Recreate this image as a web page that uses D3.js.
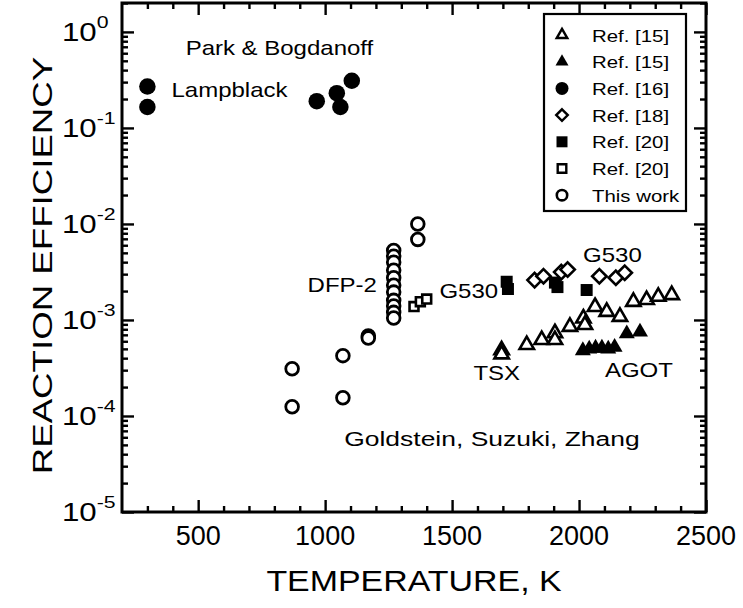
<!DOCTYPE html>
<html>
<head>
<meta charset="utf-8">
<script src="https://cdn.jsdelivr.net/npm/d3@7"></script>
<style>
  body { margin: 0; background: #fff; }
  svg { display: block; }
  text { font-family: "Liberation Sans", Arial, Helvetica, sans-serif; fill: #000; }
</style>
</head>
<body>
<svg id="chart" width="743" height="608"></svg>
<script>
// Reaction efficiency vs. temperature, [T (K), efficiency]
const ref15Open = [
  [1695, 4.85e-4], [1695, 4.4e-4],
  [1794, 5.5e-4], [1853, 6.2e-4], [1905, 7.3e-4], [1905, 6.2e-4],
  [1964, 8.5e-4], [2017, 1.04e-3], [2023, 8.9e-4], [2063, 1.37e-3],
  [2109, 1.22e-3], [2161, 1.08e-3], [2214, 1.55e-3], [2266, 1.62e-3],
  [2312, 1.75e-3], [2365, 1.82e-3]
];
const ref15Filled = [
  [2015, 4.8e-4], [2040, 5.0e-4], [2065, 5.1e-4], [2090, 5.1e-4],
  [2115, 5.0e-4], [2140, 5.2e-4], [2188, 7.2e-4], [2240, 7.5e-4]
];
const ref16 = [
  [300, 0.27], [300, 0.165], [967, 0.19], [1046, 0.23], [1060, 0.165], [1105, 0.31]
];
const ref18 = [
  [1825, 2.6e-3], [1860, 2.85e-3], [1930, 3.15e-3], [1955, 3.35e-3],
  [2080, 2.85e-3], [2145, 2.75e-3], [2180, 3.1e-3]
];
const ref20Filled = [
  [1715, 2.5e-3], [1720, 2.1e-3], [1905, 2.45e-3], [1915, 2.2e-3], [2030, 2.05e-3]
];
const ref20Open = [
  [1350, 1.38e-3], [1375, 1.55e-3], [1400, 1.65e-3]
];
const thisWork = [
  [870, 3.1e-4], [870, 1.25e-4], [1070, 4.25e-4], [1070, 1.55e-4],
  [1170, 6.8e-4], [1170, 6.5e-4],
  [1270, 5.3e-3], [1270, 4.6e-3], [1270, 4.0e-3], [1270, 3.3e-3], [1270, 2.75e-3],
  [1270, 2.3e-3], [1270, 1.95e-3], [1270, 1.6e-3], [1270, 1.4e-3], [1270, 1.2e-3],
  [1270, 1.05e-3],
  [1365, 1.0e-2], [1365, 6.9e-3]
];

// Axis ticks and labels
const xMajorTicks = [500, 1000, 1500, 2000, 2500];
const xMinorTicks = d3.range(300, 2500, 100).filter(t => t % 500 !== 0);
const yDecades = [-5, -4, -3, -2, -1, 0];

// Legend entries and in-plot annotations
const legendItems = [
  { label: "Ref. [15]", shape: "triangle", filled: false },
  { label: "Ref. [15]", shape: "triangle", filled: true },
  { label: "Ref. [16]", shape: "circle", filled: true },
  { label: "Ref. [18]", shape: "diamond", filled: false },
  { label: "Ref. [20]", shape: "square", filled: true },
  { label: "Ref. [20]", shape: "square", filled: false },
  { label: "This work", shape: "circle", filled: false }
];
const annotations = [
  { text: "Park & Bogdanoff", T: 820, E: 0.57, anchor: "middle", size: 20 },
  { text: "Lampblack", T: 395, E: 0.21, anchor: "start", size: 20 },
  { text: "DFP-2", T: 1204, E: 1.97e-3, anchor: "end", size: 20 },
  { text: "G530", T: 1450, E: 1.69e-3, anchor: "start", size: 20 },
  { text: "G530", T: 2016, E: 4.0e-3, anchor: "start", size: 20 },
  { text: "TSX", T: 1768, E: 2.37e-4, anchor: "end", size: 20 },
  { text: "AGOT", T: 2102, E: 2.55e-4, anchor: "start", size: 20 },
  { text: "Goldstein, Suzuki, Zhang", T: 1657, E: 4.9e-5, anchor: "middle", size: 21 }
];

const plot = { left: 122, right: 706, top: 3, bottom: 512 };
const svg = d3.select("#chart");

const x = d3.scaleLinear().domain([200, 2500]).range([plot.left, plot.right]);
const y = d3.scaleLog().domain([1e-5, 2]).range([plot.bottom, plot.top]);

// Text with a slight horizontal stretch, as in the printed figure
function stretchedText(parent, px, py, str, size, anchor, sx, rot) {
  const g = parent.append("g")
    .attr("transform", `translate(${px},${py})` + (rot ? ` rotate(${rot})` : "") + ` scale(${sx},1)`);
  return g.append("text")
    .attr("text-anchor", anchor)
    .attr("font-size", size)
    .text(str);
}

// ---- marker shapes ----
function markerPath(shape, s) {
  if (shape === "triangle") {
    const h = s * Math.sqrt(3) / 2;
    return `M0,${-2 * h / 3}L${s / 2},${h / 3}L${-s / 2},${h / 3}Z`;
  }
  if (shape === "diamond") {
    return `M0,${-s / 2}L${s / 2},0L0,${s / 2}L${-s / 2},0Z`;
  }
  if (shape === "square") {
    return `M${-s / 2},${-s / 2}h${s}v${s}h${-s}Z`;
  }
  return null;
}

function drawSeries(data, shape, filled, size) {
  const g = svg.append("g");
  if (shape === "circle") {
    g.selectAll("circle").data(data).join("circle")
      .attr("cx", d => x(d[0])).attr("cy", d => y(d[1]))
      .attr("r", filled ? size / 2 : size / 2 - 1.4)
      .attr("fill", filled ? "#000" : "#fff")
      .attr("stroke", "#000").attr("stroke-width", filled ? 0 : 2.8);
  } else {
    g.selectAll("path").data(data).join("path")
      .attr("transform", d => `translate(${x(d[0])},${y(d[1])})`)
      .attr("d", markerPath(shape, filled ? size : size - 2.6))
      .attr("fill", filled ? "#000" : "#fff")
      .attr("stroke", "#000").attr("stroke-width", filled ? 0 : 2.6)
      .attr("stroke-linejoin", "miter");
  }
}

// ---- data marks ----
drawSeries(ref16, "circle", true, 16.5);
drawSeries(ref20Open, "square", false, 11.5);
drawSeries(thisWork, "circle", false, 15.5);
drawSeries(ref20Filled, "square", true, 12);
drawSeries(ref18, "diamond", false, 17);
drawSeries(ref15Open, "triangle", false, 17);
drawSeries(ref15Filled, "triangle", true, 16);

// ---- annotations ----
annotations.forEach(a => {
  stretchedText(svg, x(a.T), y(a.E), a.text, a.size, a.anchor, a.size === 21 ? 1.26 : 1.2, 0);
});

// ---- ticks (inward on all four sides) ----
const tickG = svg.append("g");
const majorLen = 12, minorLen = 6;
[[xMajorTicks, majorLen], [xMinorTicks, minorLen]].forEach(([ticks, len]) => {
  tickG.append("g").attr("transform", `translate(0,${plot.bottom})`)
    .call(d3.axisTop(x).tickValues(ticks).tickSize(len).tickFormat(""))
    .call(g => g.select(".domain").remove());
  tickG.append("g").attr("transform", `translate(0,${plot.top})`)
    .call(d3.axisBottom(x).tickValues(ticks).tickSize(len).tickFormat(""))
    .call(g => g.select(".domain").remove());
});
const yMajor = yDecades.map(e => Math.pow(10, e));
const yMinor = [];
yDecades.forEach(e => { for (let m = 2; m <= 9; m++) { const v = m * Math.pow(10, e); if (v <= 2) yMinor.push(v); } });
[[yMajor, majorLen], [yMinor, minorLen]].forEach(([ticks, len]) => {
  tickG.append("g").attr("transform", `translate(${plot.left},0)`)
    .call(d3.axisRight(y).tickValues(ticks).tickSize(len).tickFormat(""))
    .call(g => g.select(".domain").remove());
  tickG.append("g").attr("transform", `translate(${plot.right},0)`)
    .call(d3.axisLeft(y).tickValues(ticks).tickSize(len).tickFormat(""))
    .call(g => g.select(".domain").remove());
});
tickG.selectAll("line").attr("stroke", "#000").attr("stroke-width", 2.4);

// ---- frame ----
svg.append("rect")
  .attr("x", plot.left).attr("y", plot.top)
  .attr("width", plot.right - plot.left).attr("height", plot.bottom - plot.top)
  .attr("fill", "none").attr("stroke", "#000").attr("stroke-width", 3);

// ---- tick labels ----
xMajorTicks.forEach(t => {
  stretchedText(svg, x(t), plot.bottom + 33, String(t), 27, "middle", 1.0, 0);
});
yDecades.forEach(e => {
  const py = y(Math.pow(10, e));
  const g = svg.append("g").attr("transform", `translate(${plot.left - 60},${py + 9}) scale(1.25,1)`);
  const t = g.append("text").attr("text-anchor", "start").attr("font-size", 25);
  t.append("tspan").text("10");
  t.append("tspan").attr("font-size", 17).attr("dy", -13).text(String(e));
});

// ---- axis titles ----
stretchedText(svg, (plot.left + plot.right) / 2, 591, "TEMPERATURE, K", 29, "middle", 1.17, 0);
stretchedText(svg, 52, (plot.top + plot.bottom) / 2 + 8, "REACTION EFFICIENCY", 28, "middle", 1.31, -90);

// ---- legend ----
const lg = { x: 544, y: 14, w: 142, h: 197, row: 26.7 };
svg.append("rect").attr("x", lg.x).attr("y", lg.y).attr("width", lg.w).attr("height", lg.h)
  .attr("fill", "#fff").attr("stroke", "#000").attr("stroke-width", 2.2);
legendItems.forEach((d, i) => {
  const cy = lg.y + 21 + i * lg.row;
  const cx = lg.x + 18;
  if (d.shape === "circle") {
    svg.append("circle").attr("cx", cx).attr("cy", cy)
      .attr("r", d.filled ? 6.5 : 5.2)
      .attr("fill", d.filled ? "#000" : "#fff")
      .attr("stroke", "#000").attr("stroke-width", d.filled ? 0 : 2.6);
  } else {
    const s = d.shape === "diamond" ? 14 : (d.shape === "triangle" ? 13 : 11);
    svg.append("path").attr("transform", `translate(${cx},${cy})`)
      .attr("d", markerPath(d.shape, d.filled ? s : s - 2.4))
      .attr("fill", d.filled ? "#000" : "#fff")
      .attr("stroke", "#000").attr("stroke-width", d.filled ? 0 : 2.4);
  }
  stretchedText(svg, lg.x + 48, cy + 6.5, d.label, 17, "start", 1.2, 0);
});
</script>
</body>
</html>
